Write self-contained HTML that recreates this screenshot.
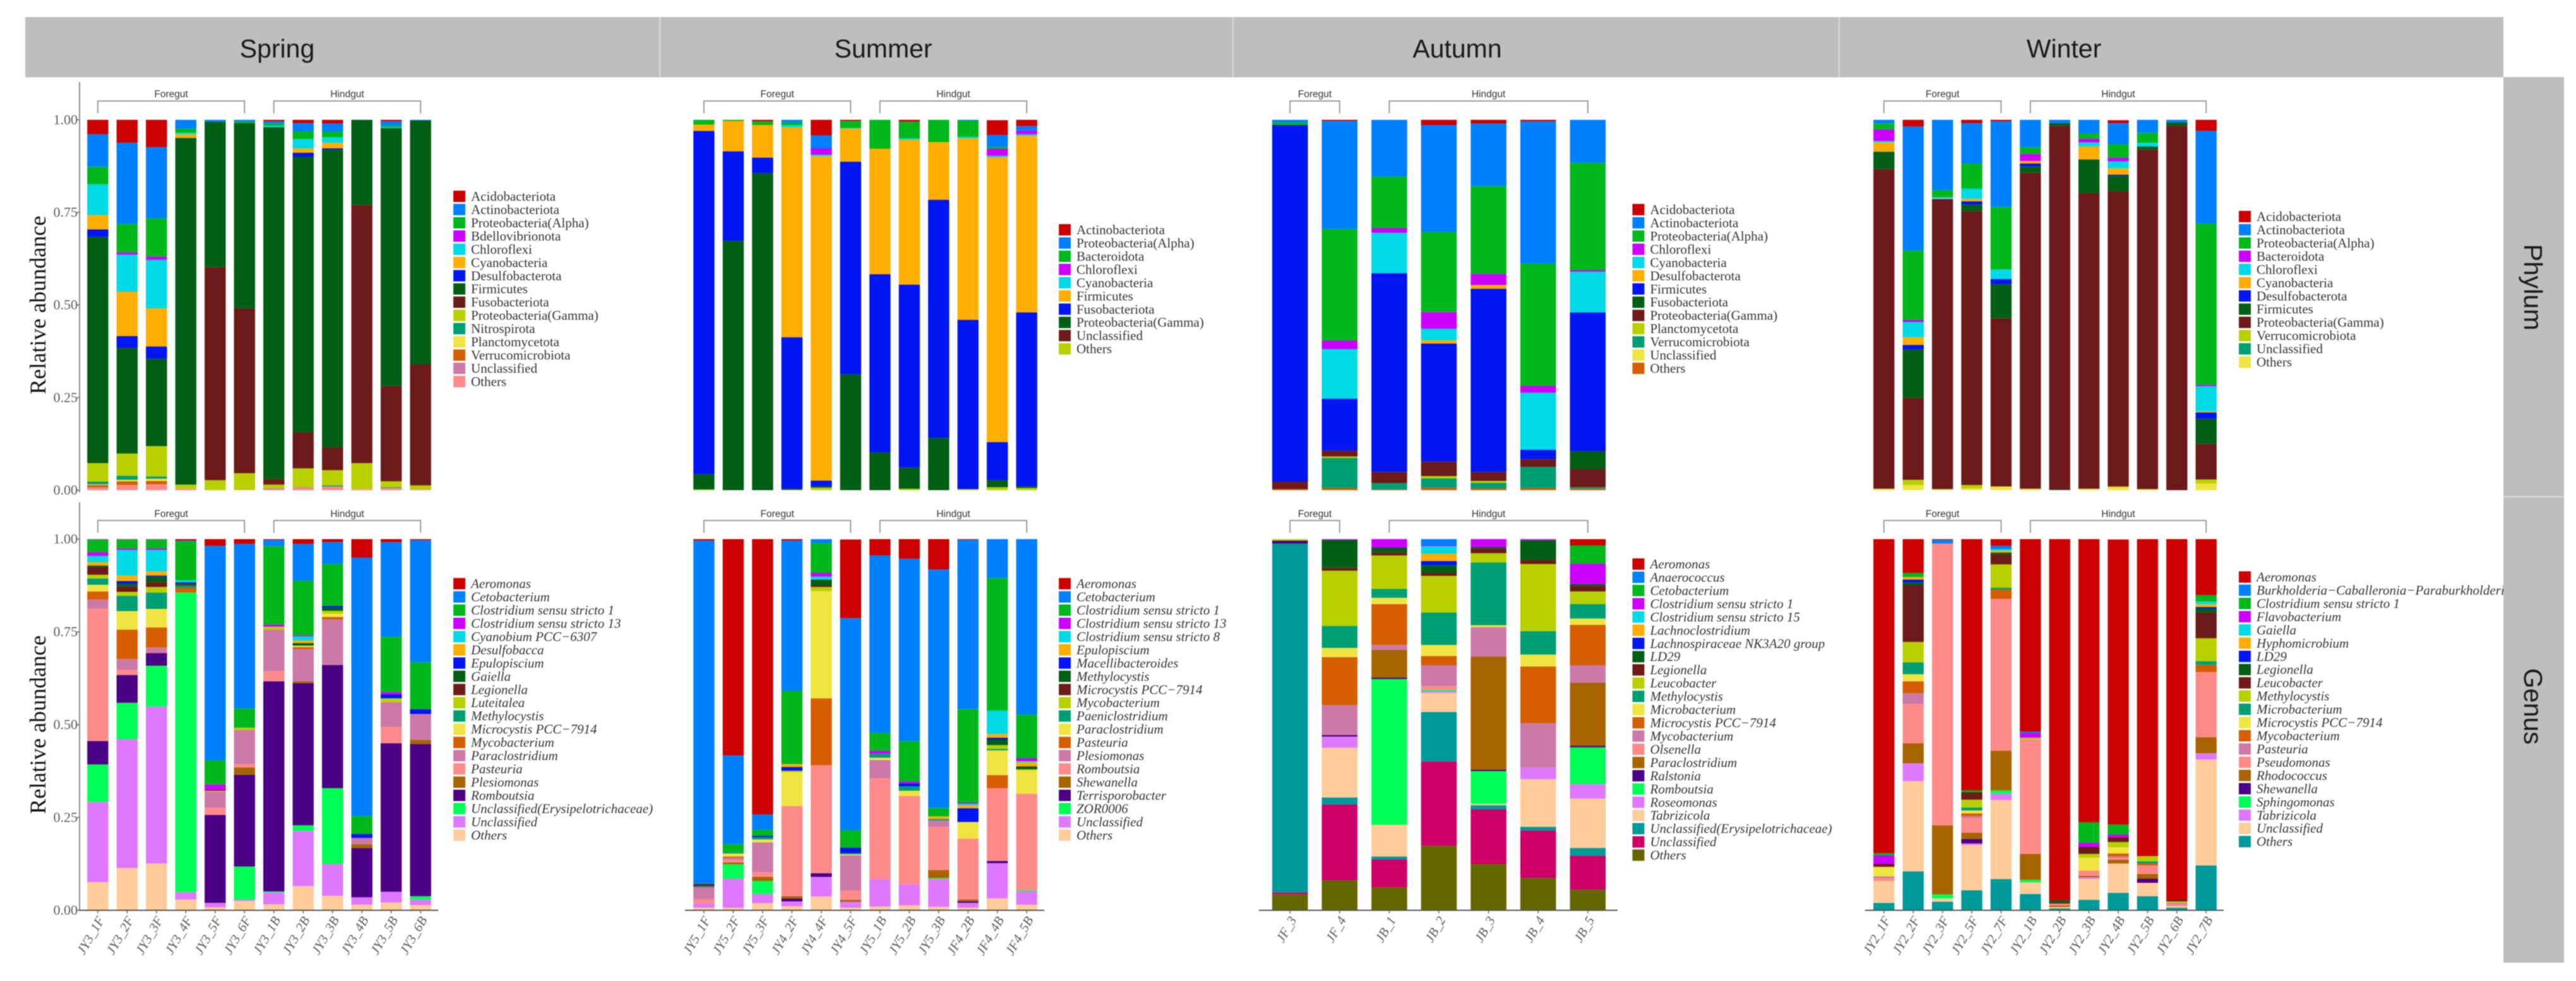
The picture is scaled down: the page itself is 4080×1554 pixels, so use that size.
<!DOCTYPE html>
<html lang="en">
<head>
<meta charset="utf-8">
<title>Relative abundance by season, phylum and genus</title>
<style>
html,body{margin:0;padding:0;background:#fff;width:4080px;height:1554px;overflow:hidden}
svg{display:block;filter:blur(0.9px)}
.serif{font-family:"Liberation Serif",serif}
.sans{font-family:"Liberation Sans",sans-serif}
</style>
</head>
<body>
<svg id="figure" xmlns="http://www.w3.org/2000/svg" width="4080" height="1554" viewBox="0 0 4080 1554">
  <rect x="0" y="0" width="4080" height="1554" fill="#fff"/>
  <g id="charts"></g>
  <g>
    <rect x="40" y="27" width="3925" height="95.5" fill="#bebebe"/>
    <line x1="1045" y1="27" x2="1045" y2="122" stroke="#dcdcdc" stroke-width="2"/>
    <line x1="1953" y1="27" x2="1953" y2="122" stroke="#dcdcdc" stroke-width="2"/>
    <line x1="2913" y1="27" x2="2913" y2="122" stroke="#dcdcdc" stroke-width="2"/>
    <text class="sans" x="439" y="91" font-size="41" text-anchor="middle" fill="#1a1a1a">Spring</text>
    <text class="sans" x="1399" y="91" font-size="41" text-anchor="middle" fill="#1a1a1a">Summer</text>
    <text class="sans" x="2308" y="91" font-size="41" text-anchor="middle" fill="#1a1a1a">Autumn</text>
    <text class="sans" x="3269" y="91" font-size="41" text-anchor="middle" fill="#1a1a1a">Winter</text>
    <rect x="3965" y="122" width="96" height="1403" fill="#bebebe"/>
    <line x1="3965" y1="787" x2="4061" y2="787" stroke="#dcdcdc" stroke-width="2"/>
    <text class="sans" font-size="41" text-anchor="middle" fill="#1a1a1a" transform="translate(3998 455) rotate(90)">Phylum</text>
    <text class="sans" font-size="41" text-anchor="middle" fill="#1a1a1a" transform="translate(3998 1119) rotate(90)">Genus</text>
  </g>
</svg>
<script>
/* ---------- shared tick labels ---------- */
const yTickValues = [0, 25, 50, 75, 100];
const yTickLabels = ['0.00', '0.25', '0.50', '0.75', '1.00'];

/* ---------- sample names ---------- */
const springSamples = ['JY3_1F','JY3_2F','JY3_3F','JY3_4F','JY3_5F','JY3_6F','JY3_1B','JY3_2B','JY3_3B','JY3_4B','JY3_5B','JY3_6B'];
const summerSamples = ['JY5_1F','JY5_2F','JY5_3F','JY4_2F','JY4_4F','JY4_5F','JY5_1B','JY5_2B','JY5_3B','JF4_2B','JF4_4B','JF4_5B'];
const autumnSamples = ['JF_3','JF_4','JB_1','JB_2','JB_3','JB_4','JB_5'];
const winterSamples = ['JY2_1F','JY2_2F','JY2_3F','JY2_5F','JY2_7F','JY2_1B','JY2_2B','JY2_3B','JY2_4B','JY2_5B','JY2_6B','JY2_7B'];

/* ---------- taxa (legend order, top of stack first) ---------- */
const springPhylumTaxa = ['Acidobacteriota','Actinobacteriota','Proteobacteria(Alpha)','Bdellovibrionota','Chloroflexi','Cyanobacteria','Desulfobacterota','Firmicutes','Fusobacteriota','Proteobacteria(Gamma)','Nitrospirota','Planctomycetota','Verrucomicrobiota','Unclassified','Others'];
const summerPhylumTaxa = ['Actinobacteriota','Proteobacteria(Alpha)','Bacteroidota','Chloroflexi','Cyanobacteria','Firmicutes','Fusobacteriota','Proteobacteria(Gamma)','Unclassified','Others'];
const autumnPhylumTaxa = ['Acidobacteriota','Actinobacteriota','Proteobacteria(Alpha)','Chloroflexi','Cyanobacteria','Desulfobacterota','Firmicutes','Fusobacteriota','Proteobacteria(Gamma)','Planctomycetota','Verrucomicrobiota','Unclassified','Others'];
const winterPhylumTaxa = ['Acidobacteriota','Actinobacteriota','Proteobacteria(Alpha)','Bacteroidota','Chloroflexi','Cyanobacteria','Desulfobacterota','Firmicutes','Proteobacteria(Gamma)','Verrucomicrobiota','Unclassified','Others'];
const springGenusTaxa = ['Aeromonas','Cetobacterium','Clostridium sensu stricto 1','Clostridium sensu stricto 13','Cyanobium PCC\u22126307','Desulfobacca','Epulopiscium','Gaiella','Legionella','Luteitalea','Methylocystis','Microcystis PCC\u22127914','Mycobacterium','Paraclostridium','Pasteuria','Plesiomonas','Romboutsia','Unclassified(Erysipelotrichaceae)','Unclassified','Others'];
const summerGenusTaxa = ['Aeromonas','Cetobacterium','Clostridium sensu stricto 1','Clostridium sensu stricto 13','Clostridium sensu stricto 8','Epulopiscium','Macellibacteroides','Methylocystis','Microcystis PCC\u22127914','Mycobacterium','Paeniclostridium','Paraclostridium','Pasteuria','Plesiomonas','Romboutsia','Shewanella','Terrisporobacter','ZOR0006','Unclassified','Others'];
const autumnGenusTaxa = ['Aeromonas','Anaerococcus','Cetobacterium','Clostridium sensu stricto 1','Clostridium sensu stricto 15','Lachnoclostridium','Lachnospiraceae NK3A20 group','LD29','Legionella','Leucobacter','Methylocystis','Microbacterium','Microcystis PCC\u22127914','Mycobacterium','Olsenella','Paraclostridium','Ralstonia','Romboutsia','Roseomonas','Tabrizicola','Unclassified(Erysipelotrichaceae)','Unclassified','Others'];
const winterGenusTaxa = ['Aeromonas','Burkholderia\u2212Caballeronia\u2212Paraburkholderia','Clostridium sensu stricto 1','Flavobacterium','Gaiella','Hyphomicrobium','LD29','Legionella','Leucobacter','Methylocystis','Microbacterium','Microcystis PCC\u22127914','Mycobacterium','Pasteuria','Pseudomonas','Rhodococcus','Shewanella','Sphingomonas','Tabrizicola','Unclassified','Others'];

/* ---------- values: one row per sample, one percentage per taxon ---------- */
const springPhylumValues = [
[3.9,8.8,4.7,0,8.3,3.9,2,61.1,0,5,.7,.2,.6,.2,.6],
[6.2,21.9,7.7,.6,10,12,3.2,28.5,0,6,1.1,.4,1,.1,1.3],
[7.4,19.2,10.3,.9,13.1,10.3,3.3,23.6,0,8.2,.6,.6,.9,.1,1.5],
[0,2.4,1.1,0,.4,1,0,93.6,0,1.1,0,0,0,0,.4],
[0,.5,0,0,0,0,0,39.3,57.5,2.7,0,0,0,0,0],
[0,.5,.4,0,0,0,0,50,44.5,4.5,0,0,0,0,.1],
[.4,.6,.6,0,.4,0,0,95,1.5,1,0,0,0,.3,.2],
[.9,2.2,2.1,0,2.5,1.2,1.1,74.4,9.7,5.1,0,0,0,.2,.6],
[1,2.2,1.5,0,1.5,1.5,.4,80.3,6.2,4.1,.3,0,0,0,1],
[0,0,0,0,0,0,0,23,69.7,7,0,0,0,0,.3],
[.4,1.2,.4,0,.2,0,0,69.7,25.7,1.6,.2,0,0,0,.6],
[0,.2,0,0,0,0,0,65.8,32.7,1.1,0,0,0,0,.2]
];
const summerPhylumValues = [
[0,0,1.3,0,0,1.7,92.7,4.1,0,.2],
[0,0,.3,0,0,8.2,24.2,67.3,0,0],
[.4,0,1,0,0,8.8,4.2,85.6,0,0],
[0,.7,.7,0,.6,56.7,40.9,.3,0,.1],
[4.2,3.5,0,1.7,.4,87.6,1.6,.3,0,.7],
[.3,0,1.9,0,.2,8.9,57.4,31.3,0,0],
[0,0,7.8,0,0,33.9,48.1,10.2,0,0],
[.5,0,4.5,0,.4,39.1,49.4,5.7,0,.4],
[0,0,6,0,0,15.6,64.3,14.1,0,0],
[0,.2,4.4,0,.4,49,45.7,0,0,.3],
[4,3.2,.5,1.9,.4,76.9,10.3,1.9,0,.8],
[1.7,1.2,0,1,.4,47.7,47,.4,0,.6]
];
const autumnPhylumValues = [
[0,.7,.7,0,0,0,96.3,0,2,0,0,0,.3],
[.3,29.2,30.1,2.3,13.4,0,14,0,1.6,.4,8.1,0,.6],
[0,15.3,13.9,1.3,10.9,0,53.7,0,3,0,1.7,0,.2],
[1.4,28.9,21.6,4.5,3.1,.9,31.9,0,3.9,.6,2.5,0,.7],
[1,16.9,23.7,3,0,1,49.5,0,2.4,.5,1.5,0,.5],
[.4,38.4,33,1.9,15.4,0,2.5,0,2.1,0,5.7,0,.6],
[0,11.6,29,.4,11,0,37.5,4.8,4.9,0,.4,0,.4]
];
const winterPhylumValues = [
[0,1,1.6,3.1,.4,2.5,0,4.7,86.3,0,0,.4],
[1.8,33.5,18.7,.6,4.1,2.1,1.2,13.1,22.1,1.4,0,1.4],
[0,19,1.9,0,.3,.2,.2,0,78.1,0,0,.3],
[.9,10.9,6.8,0,2.7,.7,.9,1.8,73.9,.9,0,.5],
[.4,23.1,16.9,0,2.6,0,1.4,9.2,45.4,0,0,1],
[0,7.4,1.8,1.9,0,.7,.8,1.7,85.3,0,0,.4],
[0,.9,0,0,0,0,0,.7,98.3,0,.1,0],
[0,3.7,1.4,1,1.1,3.5,0,9.1,79.8,0,0,.4],
[.8,5.7,3.6,1,1.9,1.7,.3,4.2,79.7,.2,0,.8],
[0,3.5,2.7,0,1,0,0,.9,91.6,0,0,.3],
[0,.7,0,0,0,0,0,.9,98.4,0,0,0],
[3,25,43.5,.4,6.8,.3,1.7,6.8,9.6,1.1,0,1.8]
];
const springGenusValues = [
[.1,.1,3.3,1,1.7,.9,0,.4,2.1,1,1.7,1.8,2.2,2.4,35.7,0,6.3,10.1,21.6,7.6],
[.1,.1,2.3,.4,6.9,1.5,.7,.7,1.5,1.1,4.1,5,7.9,2.9,1.4,0,7.5,9.8,34.7,11.4],
[.1,.1,2.3,.4,5.8,1.1,.3,1.5,1.3,1.5,4.4,5,5.4,1.4,.1,0,3.4,11,42.3,12.6],
[.4,.2,10.5,0,.5,0,.3,.3,.3,0,.6,0,1.3,0,0,0,0,80.7,2,2.9],
[1.8,57.8,6.5,1.5,0,0,0,0,.2,.2,0,0,0,4.4,1.9,0,23.7,0,1.2,.8],
[1.3,44.3,5.2,0,0,0,0,0,0,.6,0,0,0,9.2,.9,2,24.7,8.9,.4,2.5],
[.2,1.7,21.1,.6,0,0,0,0,0,.8,0,0,0,11.2,2.7,0,56.6,.3,3.2,1.6],
[1.3,9.9,14.7,.3,1.1,.7,0,.7,0,0,0,.4,.5,8.7,0,.5,38.3,1.5,14.9,6.5],
[.8,5.9,11.3,0,0,0,.5,.8,0,.8,0,.9,.6,12.3,0,0,33.2,20.4,8.6,3.9],
[5,69.6,4.8,0,0,0,1.1,0,0,0,0,0,0,1.7,0,1,13.3,0,2,1.5],
[.8,25.5,14.9,.6,0,0,1.1,0,0,1,0,0,0,6.7,4.4,0,40,0,2.9,2.1],
[.3,32.9,12.6,0,0,0,1.3,0,0,0,0,0,0,7,0,1.1,41,.9,1.5,1.4]
];
const summerGenusValues = [
[.4,92.5,0,0,0,0,0,0,.6,0,.3,0,0,3.2,1.2,0,0,0,1.1,.7],
[58.3,23.9,2.1,0,0,0,0,0,0,0,.4,.8,.3,.6,.7,.5,0,3.9,7.8,.7],
[74.2,4.1,1.6,0,0,0,.4,0,0,0,.6,.8,0,8,1.3,1.1,0,3.5,2.5,1.9],
[.4,40.5,19.7,0,0,.8,1,0,0,.4,0,9.1,0,0,24.3,.6,.8,0,1.3,1.1],
[0,1.1,8,1,.8,0,0,1.6,.4,1.1,0,28.9,18,0,29.1,0,1,0,5.3,3.7],
[21.2,57.1,4.7,0,0,0,1.5,0,0,0,.3,.3,0,9.5,2.5,.5,0,0,1.6,.7],
[4.4,47.8,4.8,.8,0,0,0,0,0,0,1.1,.6,0,5,27.1,0,0,0,7.4,1],
[5.3,49.1,10.9,.5,0,0,.8,0,0,0,1.2,1.4,0,0,23.8,0,0,0,5.7,1.3],
[8.2,64.2,2.3,0,0,.7,0,0,0,0,.4,0,0,1.7,11.7,2.1,0,.3,7.5,.9],
[.2,45.6,25.2,.3,.4,.8,3.7,0,0,0,0,4.5,0,0,16.4,.5,.4,0,1.3,.7],
[0,10.5,35.7,0,6.3,1,.5,1.5,0,1,.4,6.7,3.5,0,19.6,0,.6,0,9.5,3.2],
[0,47.3,11.7,.8,.3,1.1,0,.8,0,.3,0,6.3,0,0,26,0,0,.3,3.6,1.5]
];
const autumnGenusValues = [
[0,0,0,0,0,0,0,0,0,.4,0,0,0,0,0,0,.8,0,0,0,94,.5,4.3],
[0,0,0,.2,0,0,0,7.5,.8,14.9,5.9,2.5,12.9,8.1,0,0,.4,0,3,13.4,1.9,20.4,8.1],
[0,0,0,2.3,0,0,0,1.3,.8,9,2.4,1.7,11,1.3,0,7.5,.4,39.3,0,8.5,.8,7.5,6.2],
[0,1.7,0,.2,2,2,1.2,2,.8,9.9,8.7,3,2.5,5.6,1,0,0,.4,.4,5.2,13.3,22.7,17.4],
[0,0,0,2.1,0,0,0,.4,1.3,2.5,16.9,.5,0,7.9,0,30.5,.4,8.8,0,.4,1.1,14.7,12.5],
[0,0,0,.3,0,0,0,5.3,1.1,18.1,6.3,3.2,15.3,12,0,0,0,0,3.1,12.8,1,12.8,8.7],
[1.7,0,4.9,5.5,0,0,0,.5,1.5,3.4,3.9,1.7,10.9,4.7,0,17,.4,9.9,3.9,13.3,2.1,9.1,5.6]
];
const winterGenusValues = [
[84.6,0,.6,2.3,0,0,0,0,.8,0,0,2.6,0,.4,.8,0,0,0,0,5.9,2],
[9.1,0,1.1,0,0,.7,.8,.8,15.2,5.5,3.2,1.9,3.2,2.9,10.6,5.4,0,0,4.8,24.3,10.5],
[.2,1,0,0,0,0,0,0,0,0,0,0,0,0,75.9,18.6,0,1.1,0,.9,2.3],
[67.7,0,.5,0,0,0,0,0,2,2.1,.8,.8,.7,.6,3.9,1.7,1.2,0,.4,12.2,5.4],
[1.8,.9,0,0,.4,.5,0,.5,2.7,6.3,.5,0,2.5,0,40.9,10.7,0,.9,1.7,21.3,8.4],
[51.9,.4,0,1.2,0,0,0,0,0,.5,0,0,0,0,30.8,7,0,.7,0,3.1,4.4],
[97.3,0,0,0,0,0,0,.6,.3,0,0,0,0,0,.5,.4,0,0,0,.4,.5],
[76.3,0,5.5,1.1,0,0,0,0,1.9,1,0,3.5,0,0,1.4,.4,0,0,.4,5.7,2.8],
[76.8,0,2.7,.7,0,0,0,0,1.3,1.4,0,1.7,.8,.4,.5,1,0,0,0,7.9,4.7],
[85.4,0,0,0,0,0,0,0,0,1.4,.6,0,.5,0,2.3,1.3,1.1,0,0,3.6,3.8],
[97.2,0,0,0,0,0,0,0,.4,.4,0,0,0,.4,.5,0,0,0,0,.4,.7],
[15.1,0,1.7,0,.7,.8,.4,1.1,6.9,6.2,1,0,1.9,0,17.6,4.3,0,0,1.7,28.5,12.1]
];

/* ---------- styling ---------- */
const palette = ['#CC0000','#0080FF','#00B81B','#CC00FF','#00D9E6','#FFAD00','#0015F0','#005F14','#6E1A1A','#B8D000','#009E73','#F0E442','#D55E00','#CC79A7','#FF8A8A','#A86400','#4B0085','#00FF55','#E078FF','#FFCC99','#009999','#CC0066','#666600'];
const SVGNS = 'http://www.w3.org/2000/svg';
const chartsRoot = document.getElementById('charts');
const rowBox = {
  phylum: {yTop: 189.8, yBottom: 776.5, bracketTop: 160, bracketBottom: 179.5, groupLabelY: 154, axisTop: 130, axisBottom: 780},
  genus:  {yTop: 854,   yBottom: 1442,  bracketTop: 824.5, bracketBottom: 844, groupLabelY: 819, axisTop: 796, axisBottom: 1442}
};
const LEGEND_STEP = 20.96;

function shape(tag, parent) {
  const el = document.createElementNS(SVGNS, tag);
  parent.appendChild(el);
  return el;
}
function setAll(el, attrs) {
  Object.keys(attrs).forEach(function (k) { el.setAttribute(k, attrs[k]); });
}

function drawPanel(p) {
  const box = rowBox[p.row];
  const n = p.samples.length;
  const step = (p.axisRight - p.axisLeft) / (n + 0.2);
  const xScale = function (i) { return p.axisLeft + (i + 0.6) * step; };
  const yScale = function (v) { return box.yBottom - (v / 100) * (box.yBottom - box.yTop); };
  const barWidth = step * 0.72;

  const g = shape('g', chartsRoot);
  
  

  /* stacked bars */
  p.values.forEach(function (row, i) {
    const bar = shape('g', g);
    
    
    let cum = 0;
    for (let t = row.length - 1; t >= 0; t--) {
      const v = row[t];
      if (v <= 0) continue;
      const seg = shape('rect', bar);
      setAll(seg, {x: xScale(i) - barWidth / 2, y: yScale(cum + v), width: barWidth, height: yScale(cum) - yScale(cum + v), fill: palette[t]});
      
      
      cum += v;
    }
  });

  /* group brackets */
  [[0, p.foregut - 1, 'Foregut'], [p.foregut, n - 1, 'Hindgut']].forEach(function (b) {
    const path = shape('path', g);
    const x0 = xScale(b[0]);
    const x1 = xScale(b[1]);
    setAll(path, {d: 'M' + x0 + ' ' + box.bracketBottom + 'V' + box.bracketTop + 'H' + x1 + 'V' + box.bracketBottom, fill: 'none', stroke: '#9a9a9a', 'stroke-width': 2});
    
    
    const lab = shape('text', g);
    setAll(lab, {x: (x0 + x1) / 2, y: box.groupLabelY, 'text-anchor': 'middle', 'font-size': 15.5, fill: '#333', 'class': 'sans'});
    lab.textContent = b[2];
    
    
  });

  /* y axis */
  if (p.showY) {
    const yAxis = shape('line', g);
    setAll(yAxis, {x1: p.axisLeft - 1, x2: p.axisLeft - 1, y1: box.axisTop, y2: box.axisBottom, stroke: '#8a8a8a', 'stroke-width': 2});
    
    
    yTickValues.forEach(function (v, k) {
      const tick = shape('line', g);
      setAll(tick, {x1: p.axisLeft - 5, x2: p.axisLeft - 1, y1: yScale(v), y2: yScale(v), stroke: '#666', 'stroke-width': 1.5});
      
      
      const label = shape('text', g);
      setAll(label, {x: p.axisLeft - 4, y: yScale(v) + 7, 'text-anchor': 'end', 'font-size': 22, fill: '#5a5a5a', 'class': 'serif'});
      label.textContent = yTickLabels[k];
      
      
    });
    const title = shape('text', g);
    setAll(title, {'text-anchor': 'middle', 'font-size': 36, fill: '#111', 'class': 'serif', transform: 'translate(72 ' + ((box.yTop + box.yBottom) / 2 + 0) + ') rotate(-90)'});
    title.textContent = 'Relative abundance';
    
    
  }

  /* x axis (bottom row only) */
  if (p.row === 'genus') {
    const xAxis = shape('line', g);
    setAll(xAxis, {x1: p.axisLeft - 2, x2: p.axisRight, y1: box.yBottom, y2: box.yBottom, stroke: '#555', 'stroke-width': 2});
    
    
    p.samples.forEach(function (s, i) {
      const tick = shape('line', g);
      setAll(tick, {x1: xScale(i), x2: xScale(i), y1: box.yBottom, y2: box.yBottom + 5, stroke: '#666', 'stroke-width': 1.5});
      
      
      const label = shape('text', g);
      setAll(label, {'text-anchor': 'end', 'font-size': 21, 'font-style': 'italic', fill: '#5a5a5a', 'class': 'serif', transform: 'translate(' + (xScale(i) + 11) + ' ' + (box.yBottom + 15) + ') rotate(-60)'});
      label.textContent = s;
      
      
    });
  }

  /* legend */
  const legend = shape('g', g);
  
  
  p.taxa.forEach(function (name, t) {
    const cy = p.legendY + t * LEGEND_STEP;
    const sw = shape('rect', legend);
    setAll(sw, {x: p.legendX, y: cy - 9, width: 19, height: 18, fill: palette[t]});
    
    
    const tx = shape('text', legend);
    setAll(tx, {x: p.legendX + 28, y: cy + 7, 'font-size': 21, fill: '#333', 'class': 'serif'});
    if (p.row === 'genus') tx.setAttribute('font-style', 'italic');
    tx.textContent = name;
    
    
  });
}

[
  {id:'spring-phylum', row:'phylum', samples:springSamples, taxa:springPhylumTaxa, values:springPhylumValues, axisLeft:127, axisRight:694, foregut:6, showY:true, legendX:718, legendY:311},
  {id:'summer-phylum', row:'phylum', samples:summerSamples, taxa:summerPhylumTaxa, values:summerPhylumValues, axisLeft:1087, axisRight:1654, foregut:6, showY:false, legendX:1677, legendY:364},
  {id:'autumn-phylum', row:'phylum', samples:autumnSamples, taxa:autumnPhylumTaxa, values:autumnPhylumValues, axisLeft:1996, axisRight:2562, foregut:2, showY:false, legendX:2585.5, legendY:332},
  {id:'winter-phylum', row:'phylum', samples:winterSamples, taxa:winterPhylumTaxa, values:winterPhylumValues, axisLeft:2956, axisRight:3522, foregut:5, showY:false, legendX:3546, legendY:343},
  {id:'spring-genus', row:'genus', samples:springSamples, taxa:springGenusTaxa, values:springGenusValues, axisLeft:127, axisRight:694, foregut:6, showY:true, legendX:718, legendY:924.6},
  {id:'summer-genus', row:'genus', samples:summerSamples, taxa:summerGenusTaxa, values:summerGenusValues, axisLeft:1087, axisRight:1654, foregut:6, showY:false, legendX:1677, legendY:924.6},
  {id:'autumn-genus', row:'genus', samples:autumnSamples, taxa:autumnGenusTaxa, values:autumnGenusValues, axisLeft:1996, axisRight:2562, foregut:2, showY:false, legendX:2585.5, legendY:893.5},
  {id:'winter-genus', row:'genus', samples:winterSamples, taxa:winterGenusTaxa, values:winterGenusValues, axisLeft:2956, axisRight:3522, foregut:5, showY:false, legendX:3546, legendY:914}
].forEach(drawPanel);
</script>
</body>
</html>
